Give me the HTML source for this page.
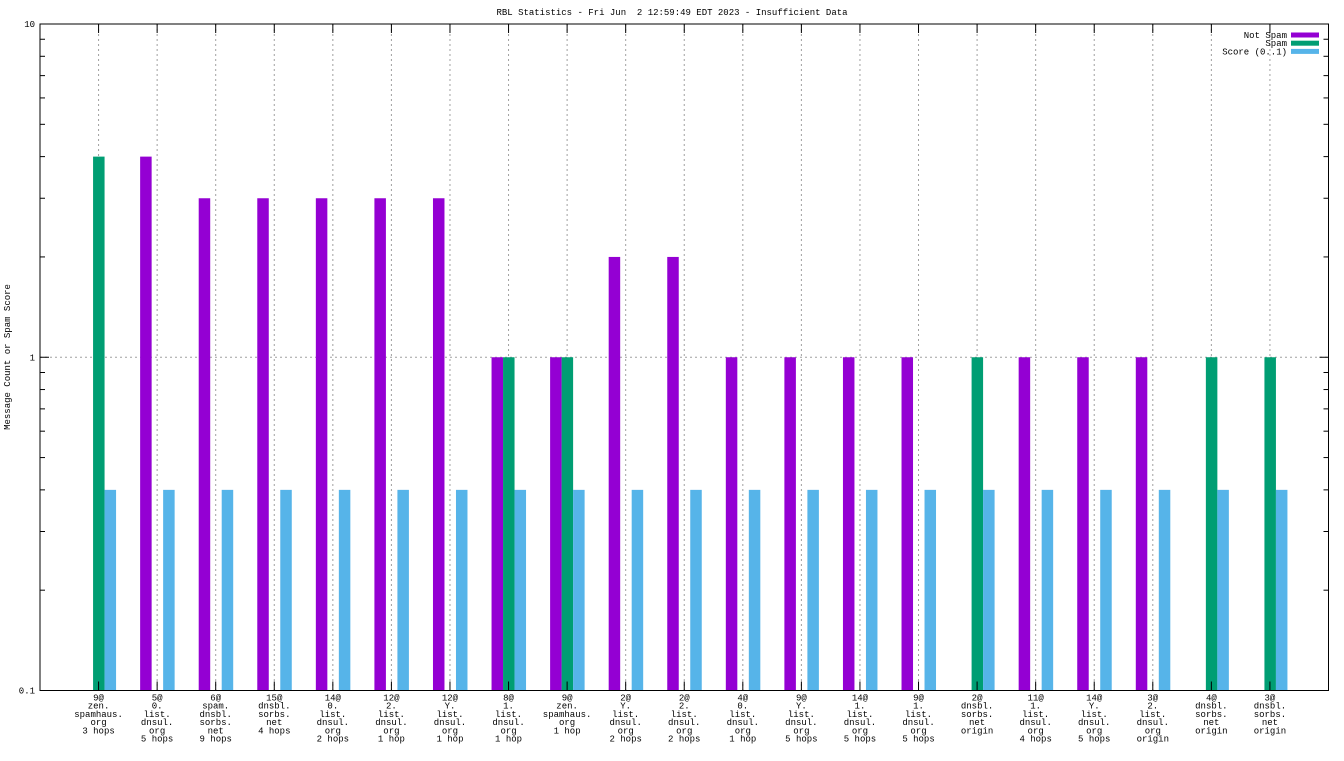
<!DOCTYPE html>
<html><head><meta charset="utf-8">
<style>
html,body{margin:0;padding:0;background:#fff;}
svg text{font-family:"Liberation Mono",monospace;font-size:9px;fill:#000;white-space:pre;}
</style></head>
<body>
<svg id="chart" width="1344" height="756" xmlns="http://www.w3.org/2000/svg"></svg>
<script>
const categories = [
 ["9@","zen.","spamhaus.","org","3 hops"],
 ["5@","0.","list.","dnsul.","org","5 hops"],
 ["6@","spam.","dnsbl.","sorbs.","net","9 hops"],
 ["15@","dnsbl.","sorbs.","net","4 hops"],
 ["14@","0.","list.","dnsul.","org","2 hops"],
 ["12@","2.","list.","dnsul.","org","1 hop"],
 ["12@","Y.","list.","dnsul.","org","1 hop"],
 ["8@","1.","list.","dnsul.","org","1 hop"],
 ["9@","zen.","spamhaus.","org","1 hop"],
 ["2@","Y.","list.","dnsul.","org","2 hops"],
 ["2@","2.","list.","dnsul.","org","2 hops"],
 ["4@","0.","list.","dnsul.","org","1 hop"],
 ["9@","Y.","list.","dnsul.","org","5 hops"],
 ["14@","1.","list.","dnsul.","org","5 hops"],
 ["9@","1.","list.","dnsul.","org","5 hops"],
 ["2@","dnsbl.","sorbs.","net","origin"],
 ["11@","1.","list.","dnsul.","org","4 hops"],
 ["14@","Y.","list.","dnsul.","org","5 hops"],
 ["3@","2.","list.","dnsul.","org","origin"],
 ["4@","dnsbl.","sorbs.","net","origin"],
 ["3@","dnsbl.","sorbs.","net","origin"]
];
const notSpam = [0,4,3,3,3,3,3,1,1,2,2,1,1,1,1,0,1,1,1,0,0];
const spam    = [4,0,0,0,0,0,0,1,1,0,0,0,0,0,0,1,0,0,0,1,1];
const score   = [0.4,0.4,0.4,0.4,0.4,0.4,0.4,0.4,0.4,0.4,0.4,0.4,0.4,0.4,0.4,0.4,0.4,0.4,0.4,0.4,0.4];
const yTicks = [0.1,1,10];
const yTickLabels = ["0.1","1","10"];

const svg = document.getElementById('chart');
const NS = 'http://www.w3.org/2000/svg';
const L=40,R=1328.5,T=24,B=690.5;
const step=(R-L)/(categories.length+1);
function x(i){return L+(i+1)*step;}
function y(v){return B-(Math.log10(v)+1)/2*(B-T);}
function mk(tag,attrs,parent){const e=document.createElementNS(NS,tag);for(const k in attrs)e.setAttribute(k,attrs[k]);(parent||svg).appendChild(e);return e;}

let t=mk('text',{x:672,y:15,'text-anchor':'middle'});


t.textContent='RBL Statistics - Fri Jun  2 12:59:49 EDT 2023 - Insufficient Data';

t=mk('text',{x:10,y:357,'text-anchor':'middle',transform:'rotate(-90 10 357)'});


t.textContent='Message Count or Spam Score';

categories.forEach((c,i)=>{
  const g=mk('line',{x1:x(i),x2:x(i),y1:T,y2:B,stroke:'#a0a0a0','stroke-dasharray':'2,3','stroke-width':1});
  
  
});
const hg=mk('line',{x1:L,x2:R,y1:y(1),y2:y(1),stroke:'#a0a0a0','stroke-dasharray':'2,3'});



const bw=11.5;
function bar(i,v,off,color,name){
  if(!v)return;
  const r=mk('rect',{x:x(i)+off,y:y(v),width:bw,height:B-y(v),fill:color});
  
  
}
categories.forEach((c,i)=>{
  bar(i,notSpam[i],-17,'#9400d3','bar-not-spam');
  bar(i,spam[i],-5.5,'#009e73','bar-spam');
  bar(i,score[i],6,'#56b4e9','bar-score');
});

const fr=mk('rect',{x:L,y:T,width:R-L,height:B-T,fill:'none',stroke:'#000','stroke-width':1});



yTicks.forEach((v,k)=>{
  mk('line',{x1:L,x2:L+9,y1:y(v),y2:y(v),stroke:'#000'});
  mk('line',{x1:R-9,x2:R,y1:y(v),y2:y(v),stroke:'#000'});
  const lb=mk('text',{x:L-5,y:y(v)+3,'text-anchor':'end'});
  
  
  lb.textContent=yTickLabels[k];
});
[0.1,1].forEach(d=>{for(let m=2;m<10;m++){const v=d*m;
  mk('line',{x1:L,x2:L+5,y1:y(v),y2:y(v),stroke:'#000'});
  mk('line',{x1:R-5,x2:R,y1:y(v),y2:y(v),stroke:'#000'});}});

categories.forEach((c,i)=>{
  mk('line',{x1:x(i),x2:x(i),y1:B-9,y2:B,stroke:'#000'});
  mk('line',{x1:x(i),x2:x(i),y1:T,y2:T+9,stroke:'#000'});
  const lb=mk('text',{x:x(i),y:B+10,'text-anchor':'middle'});
  
  
  c.forEach((s,j)=>{const ts=mk('tspan',{x:x(i),dy:j?8.2:0},lb);ts.textContent=s;});
});

const leg=[['Not Spam','#9400d3'],['Spam','#009e73'],['Score (0..1)','#56b4e9']];
leg.forEach((l,k)=>{
  const yy=35+k*8.2;
  const tx=mk('text',{x:1287,y:yy+3,'text-anchor':'end'});
  
  
  tx.textContent=l[0];
  mk('rect',{x:1291,y:yy-2.5,width:28,height:5,fill:l[1]});
});
</script>
</body></html>
